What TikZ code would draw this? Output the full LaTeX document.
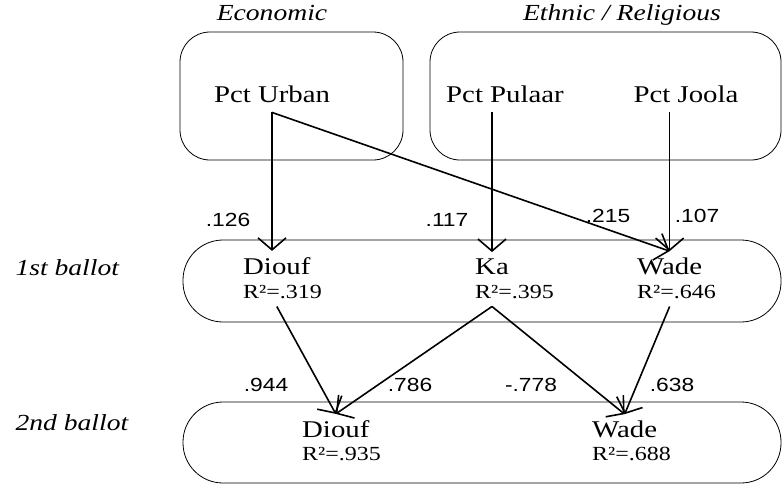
\documentclass[tikz,border=0pt]{standalone}
\usepackage{fontspec}
\setmainfont{Liberation Serif}[FakeStretch=1.2, ItalicFont={Liberation Serif Italic}]
\setsansfont{Liberation Sans}[FakeStretch=1.2]
\newfontfamily\grpfamily{Liberation Serif Italic}[FakeStretch=1.2]
\usepackage{tikz}
\usetikzlibrary{arrows.meta,positioning,calc}
\newcommand\varfont{\fontsize{24}{28}\selectfont}
\newcommand\rsqfont{\fontsize{20}{24}\selectfont}
\newcommand\coeffont{\sffamily\fontsize{19}{22}\selectfont}
\newcommand\grpfont{\grpfamily\fontsize{23}{27}\selectfont}

\begin{document}
\begin{tikzpicture}[x=1pt, y=-1pt,
    group/.style={draw, line width=0.8pt},
    factor/.style={font=\varfont, anchor=base, inner xsep=0pt, inner ysep=10pt},
    var/.style={font=\varfont, anchor=base west, inner xsep=0pt, inner ysep=6pt},
    rsq/.style={font=\rsqfont, anchor=base west, inner xsep=0pt, inner ysep=8pt},
    coef/.style={font=\coeffont, anchor=base},
    lbl/.style={font=\grpfont, anchor=base},
    arr/.style={-{Straight Barb[length=12pt, width=28pt]}, line width=1.6pt}]
        \useasboundingbox (0,0) rectangle (783,485);

        % Group boxes
        \draw[group, rounded corners=30pt] (180,32) rectangle (403,160);
        \draw[group, rounded corners=30pt] (430,32) rectangle (781,160);
        \draw[group, rounded corners=40pt] (183,240) rectangle (781,322);
        \draw[group, rounded corners=40pt] (183,402) rectangle (781,483);

        % Group labels
        \node[lbl] (econ) at (272,20) {Economic};
        \node[lbl] (ethnic) at (622,20) {Ethnic / Religious};
        \node[lbl, anchor=base west] (first) at (12,275) {1st ballot};
        \node[lbl, anchor=base west] (second) at (12,430) {2nd ballot};

        % Factors
        \node[factor] (urban) at (272,102) {Pct Urban};
        \node[factor] (pulaar) at (505,102) {Pct Pulaar};
        \node[factor] (joola) at (686,102) {Pct Joola};

        % 1st ballot
        \node[var] (diouf1) at (243,274) {Diouf};
        \node[rsq] (diouf1r) at (243,298) {R²=.319};
        \node[var] (ka) at (475,274) {Ka};
        \node[rsq] (kar) at (475,298) {R²=.395};
        \node[var] (wade1) at (637,274) {Wade};
        \node[rsq] (wade1r) at (637,298) {R²=.646};

        % 2nd ballot
        \node[var] (diouf2) at (302,437) {Diouf};
        \node[rsq] (diouf2r) at (302,460) {R²=.935};
        \node[var] (wade2) at (592,437) {Wade};
        \node[rsq] (wade2r) at (592,460) {R²=.688};

        % Paths
        \draw[arr] (urban.south) -- (urban.south |- diouf1.north);
        \draw[arr] (urban.south) -- (wade1.north);
        \draw[arr] (ka.north |- pulaar.south) -- (ka.north);
        \draw[arr] (wade1.north |- joola.south) -- (wade1.north);
        \draw[arr] (diouf1.south |- diouf1r.south) -- (diouf2.north);
        \draw[arr] (ka.south |- kar.south) -- (diouf2.north);
        \draw[arr] (ka.south |- kar.south) -- (wade2.north);
        \draw[arr] (wade1.south |- wade1r.south) -- (wade2.north);

        % Coefficients
        \node[coef] (c1) at (228,226) {.126};
        \node[coef] (c2) at (447,226) {.117};
        \node[coef] (c3) at (608,222) {.215};
        \node[coef] (c4) at (697,222) {.107};
        \node[coef] (c5) at (266,391) {.944};
        \node[coef] (c6) at (410,391) {.786};
        \node[coef] (c7) at (531,391) {-.778};
        \node[coef] (c8) at (672,391) {.638};
    \end{tikzpicture}
\end{document}
